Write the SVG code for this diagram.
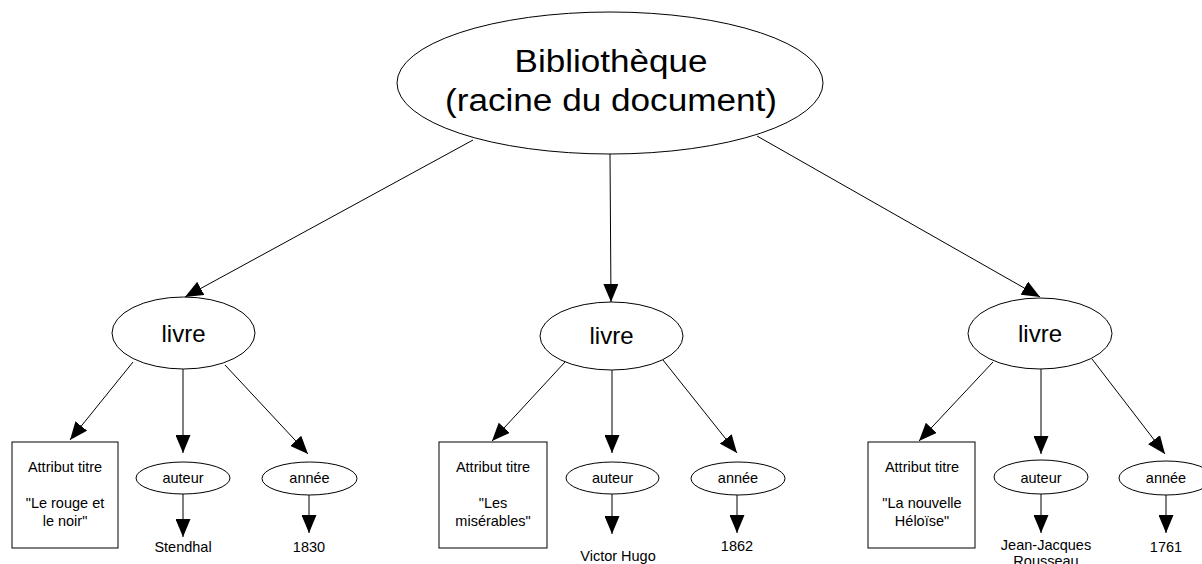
<svg xmlns="http://www.w3.org/2000/svg" width="1202" height="564" viewBox="0 0 1202 564">
<defs>
<style>
.shape{fill:#fff;stroke:#000;stroke-width:1}
.edge{fill:none;stroke:#000;stroke-width:1}
text{font-family:"Liberation Sans",Arial,sans-serif;fill:#000;text-anchor:middle}
.big{font-size:31px}
.mid{font-size:24px}
.sm{font-size:14.5px}
</style>
<marker id="ah" viewBox="0 0 18 15" refX="18" refY="7.5" markerWidth="18" markerHeight="15" markerUnits="userSpaceOnUse" orient="auto">
<path d="M0,0 L18,7.5 L0,15 z" fill="#000"/>
</marker>
</defs>
<rect width="1202" height="564" fill="#fff"/>
<g id="connectors">
<line class="edge" x1="473" y1="140" x2="185" y2="297" marker-end="url(#ah)"/>
<line class="edge" x1="610" y1="153" x2="611" y2="302" marker-end="url(#ah)"/>
<line class="edge" x1="757" y1="136" x2="1040" y2="297" marker-end="url(#ah)"/>
<line class="edge" x1="133" y1="362" x2="70" y2="440" marker-end="url(#ah)"/>
<line class="edge" x1="183" y1="369" x2="183" y2="453" marker-end="url(#ah)"/>
<line class="edge" x1="225" y1="365" x2="308" y2="454" marker-end="url(#ah)"/>
<line class="edge" x1="565" y1="362" x2="492" y2="441" marker-end="url(#ah)"/>
<line class="edge" x1="612" y1="370" x2="612" y2="453" marker-end="url(#ah)"/>
<line class="edge" x1="663" y1="360" x2="737" y2="453" marker-end="url(#ah)"/>
<line class="edge" x1="993" y1="362" x2="919" y2="441" marker-end="url(#ah)"/>
<line class="edge" x1="1041" y1="369" x2="1041" y2="454" marker-end="url(#ah)"/>
<line class="edge" x1="1092" y1="359" x2="1165" y2="454" marker-end="url(#ah)"/>
<line class="edge" x1="183" y1="494" x2="183" y2="537" marker-end="url(#ah)"/>
<line class="edge" x1="309" y1="495" x2="309" y2="533" marker-end="url(#ah)"/>
<line class="edge" x1="612" y1="494" x2="612" y2="534" marker-end="url(#ah)"/>
<line class="edge" x1="737" y1="495" x2="737" y2="533" marker-end="url(#ah)"/>
<line class="edge" x1="1041" y1="494" x2="1041" y2="533" marker-end="url(#ah)"/>
<line class="edge" x1="1166" y1="495" x2="1166" y2="533" marker-end="url(#ah)"/>
</g>
<g id="root">
<ellipse class="shape" cx="610" cy="83" rx="213" ry="71"/>
<text class="big" x="611" y="72" textLength="193" lengthAdjust="spacingAndGlyphs">Bibliothèque</text>
<text class="big" x="611" y="111" textLength="332" lengthAdjust="spacingAndGlyphs">(racine du document)</text>
</g>
<g id="livre1">
<ellipse class="shape" cx="183.5" cy="333" rx="71.5" ry="36"/>
<text class="mid" x="183.5" y="342">livre</text>
</g>
<g id="livre2">
<ellipse class="shape" cx="611.5" cy="336" rx="71.5" ry="34"/>
<text class="mid" x="611.5" y="344">livre</text>
</g>
<g id="livre3">
<ellipse class="shape" cx="1040" cy="333.5" rx="72" ry="35.5"/>
<text class="mid" x="1040" y="342">livre</text>
</g>
<g id="titre1">
<rect class="shape" x="12" y="442" width="106" height="106"/>
<text class="sm" x="65" y="472">Attribut titre</text>
<text class="sm" x="65" y="508">"Le rouge et</text>
<text class="sm" x="65" y="526">le noir"</text>
</g>
<g id="auteur1">
<ellipse class="shape" cx="183" cy="478" rx="47" ry="16"/>
<text class="sm" x="183" y="483">auteur</text>
</g>
<g id="annee1">
<ellipse class="shape" cx="309.5" cy="478.5" rx="47.5" ry="16.5"/>
<text class="sm" x="309.5" y="483">année</text>
</g>
<g id="stendhal"><text class="sm" x="183" y="552">Stendhal</text></g>
<g id="y1830"><text class="sm" x="309" y="552">1830</text></g>
<g id="titre2">
<rect class="shape" x="439" y="442" width="108" height="106"/>
<text class="sm" x="493" y="472">Attribut titre</text>
<text class="sm" x="493" y="508">"Les</text>
<text class="sm" x="493" y="526">misérables"</text>
</g>
<g id="auteur2">
<ellipse class="shape" cx="612.5" cy="478" rx="46.5" ry="16"/>
<text class="sm" x="612.5" y="483">auteur</text>
</g>
<g id="annee2">
<ellipse class="shape" cx="738" cy="478.5" rx="47" ry="16.5"/>
<text class="sm" x="738" y="483">année</text>
</g>
<g id="hugo"><text class="sm" x="618" y="561">Victor Hugo</text></g>
<g id="y1862"><text class="sm" x="737" y="551">1862</text></g>
<g id="titre3">
<rect class="shape" x="868" y="442" width="107" height="106"/>
<text class="sm" x="922" y="472">Attribut titre</text>
<text class="sm" x="922" y="508">"La nouvelle</text>
<text class="sm" x="922" y="526">Héloïse"</text>
</g>
<g id="auteur3">
<ellipse class="shape" cx="1041" cy="477" rx="47" ry="17"/>
<text class="sm" x="1041" y="483">auteur</text>
</g>
<g id="annee3">
<ellipse class="shape" cx="1166" cy="478" rx="47" ry="17"/>
<text class="sm" x="1166" y="483">année</text>
</g>
<g id="rousseau">
<text class="sm" x="1046" y="550">Jean-Jacques</text>
<text class="sm" x="1046" y="566">Rousseau</text>
</g>
<g id="y1761"><text class="sm" x="1166" y="552">1761</text></g>
</svg>
